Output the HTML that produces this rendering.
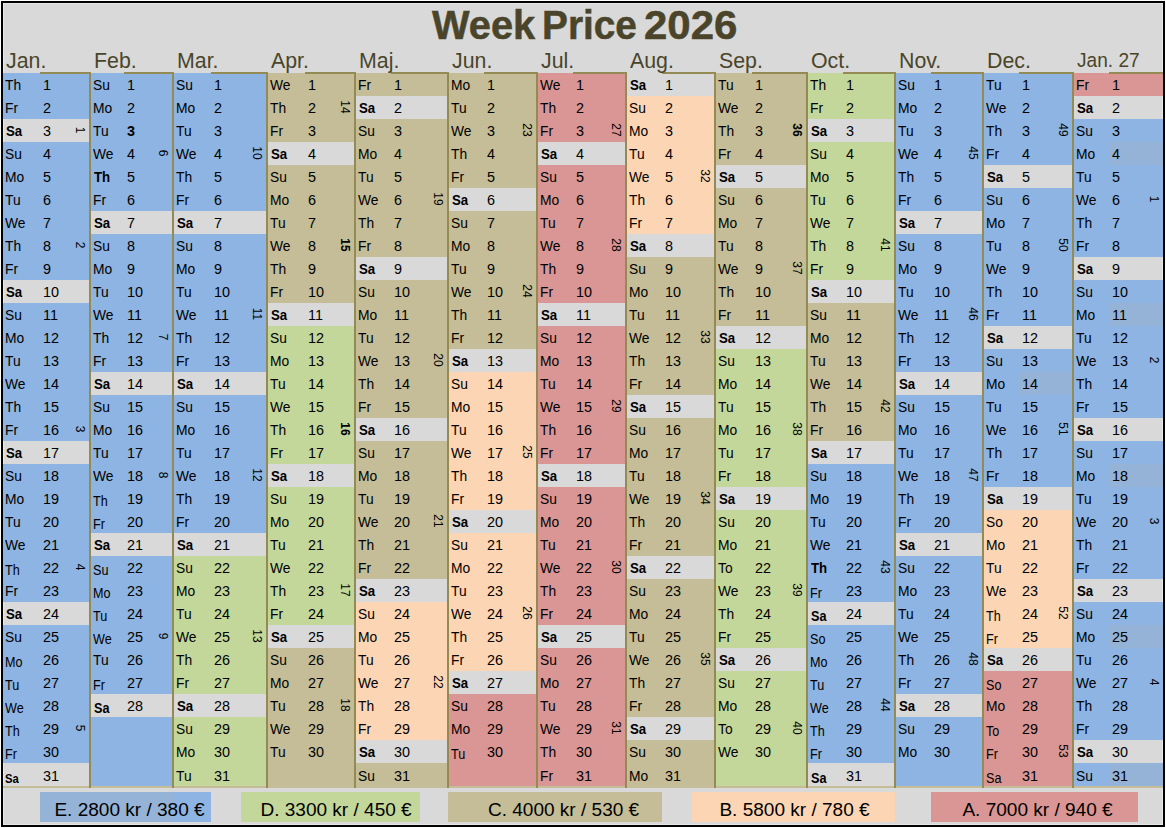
<!DOCTYPE html>
<html><head><meta charset="utf-8"><title>Week Price 2026</title>
<style>
html,body{margin:0;padding:0}
body{width:1166px;height:828px;position:relative;overflow:hidden;background:#fff;
font-family:"Liberation Sans",sans-serif;color:#000}
#fr{position:absolute;left:1px;top:1px;width:1160px;height:822px;border:2px solid #000;background:#d9d9d9;
box-shadow:inset 1px 1px 0 #e8e8e8,inset -1px -1px 0 #e8e8e8}
.a{position:absolute}
.bg{position:absolute}
.d,.n{position:absolute;font-size:14.4px;line-height:23px;height:23px;white-space:nowrap;margin-top:1px}
.d{transform:scaleX(.96);transform-origin:0 50%}
.b{font-weight:bold}
.d.b{transform:scaleX(.92);margin-left:1px}
.r31{margin-top:2px}
.lo.r31{margin-top:3.5px}
.lo{margin-top:3px;font-size:14px}
.d.lo{transform:scaleX(.9)}
.d.alt{font-size:13.4px;transform:scaleX(.84);margin-left:0}
.w{position:absolute;font-size:13.3px;line-height:12px;width:30px;height:12px;text-align:center;
transform:rotate(90deg) scaleX(.9);transform-origin:50% 50%;white-space:nowrap}
.m{position:absolute;font-size:22px;line-height:24px;color:#4a452a;white-space:nowrap;top:48.7px;transform:scaleX(.97);transform-origin:0 0}
.ms{font-size:19.7px;top:47.6px}
.bl{position:absolute;background:#948a54}
#title{position:absolute;left:432px;top:3.3px;font-size:39.8px;line-height:44px;font-weight:bold;color:#4a452a;
white-space:nowrap}
.tw{position:absolute;top:0;transform-origin:0 0;-webkit-text-stroke:.5px #4a452a}
.lg{position:absolute;top:792px;height:30px}
.lt{position:absolute;top:792px;height:30px;line-height:30px;font-size:19.05px;white-space:nowrap;margin-top:3.4px;margin-left:-.6px}
</style></head><body><div id="fr"></div>
<div id="title"><span class="tw" style="left:0">Week</span><span class="tw" style="left:110px;transform:scaleX(.975)">Price</span><span class="tw" style="left:211.8px;transform:scaleX(1.055)">2026</span></div>

<div class="a" style="left:3px;top:786px;width:1160px;height:2px;background:#c4bd97"></div>
<div class="bg" style="left:3px;top:73.4px;width:86px;height:45.98px;background:#8db4e2"></div>
<div class="bg" style="left:3px;top:142.37px;width:86px;height:137.94px;background:#8db4e2"></div>
<div class="bg" style="left:3px;top:303.3px;width:86px;height:137.94px;background:#8db4e2"></div>
<div class="bg" style="left:3px;top:464.23px;width:86px;height:137.94px;background:#8db4e2"></div>
<div class="bg" style="left:3px;top:625.16px;width:86px;height:137.94px;background:#8db4e2"></div>
<div class="bl" style="left:40px;top:72px;width:51px;height:2px"></div>
<div class="bl" style="left:89px;top:72px;width:2px;height:716px"></div>
<div class="m" style="left:6px">Jan.</div>
<div class="d" style="left:5px;top:73.4px">Th</div>
<div class="n" style="left:43px;top:73.4px">1</div>
<div class="d" style="left:5px;top:96.39px">Fr</div>
<div class="n" style="left:43px;top:96.39px">2</div>
<div class="d b" style="left:5px;top:119.38px">Sa</div>
<div class="n" style="left:43px;top:119.38px">3</div>
<div class="d" style="left:5px;top:142.37px">Su</div>
<div class="n" style="left:43px;top:142.37px">4</div>
<div class="d" style="left:5px;top:165.36px">Mo</div>
<div class="n" style="left:43px;top:165.36px">5</div>
<div class="d" style="left:5px;top:188.35px">Tu</div>
<div class="n" style="left:43px;top:188.35px">6</div>
<div class="d" style="left:5px;top:211.34px">We</div>
<div class="n" style="left:43px;top:211.34px">7</div>
<div class="d" style="left:5px;top:234.33px">Th</div>
<div class="n" style="left:43px;top:234.33px">8</div>
<div class="d" style="left:5px;top:257.32px">Fr</div>
<div class="n" style="left:43px;top:257.32px">9</div>
<div class="d b" style="left:5px;top:280.31px">Sa</div>
<div class="n" style="left:43px;top:280.31px">10</div>
<div class="d" style="left:5px;top:303.3px">Su</div>
<div class="n" style="left:43px;top:303.3px">11</div>
<div class="d" style="left:5px;top:326.29px">Mo</div>
<div class="n" style="left:43px;top:326.29px">12</div>
<div class="d" style="left:5px;top:349.28px">Tu</div>
<div class="n" style="left:43px;top:349.28px">13</div>
<div class="d" style="left:5px;top:372.27px">We</div>
<div class="n" style="left:43px;top:372.27px">14</div>
<div class="d" style="left:5px;top:395.26px">Th</div>
<div class="n" style="left:43px;top:395.26px">15</div>
<div class="d" style="left:5px;top:418.25px">Fr</div>
<div class="n" style="left:43px;top:418.25px">16</div>
<div class="d b" style="left:5px;top:441.24px">Sa</div>
<div class="n" style="left:43px;top:441.24px">17</div>
<div class="d" style="left:5px;top:464.23px">Su</div>
<div class="n" style="left:43px;top:464.23px">18</div>
<div class="d" style="left:5px;top:487.22px">Mo</div>
<div class="n" style="left:43px;top:487.22px">19</div>
<div class="d" style="left:5px;top:510.21px">Tu</div>
<div class="n" style="left:43px;top:510.21px">20</div>
<div class="d" style="left:5px;top:533.2px">We</div>
<div class="n" style="left:43px;top:533.2px">21</div>
<div class="d lo" style="left:5px;top:556.19px">Th</div>
<div class="n" style="left:43px;top:556.19px">22</div>
<div class="d" style="left:5px;top:579.18px">Fr</div>
<div class="n" style="left:43px;top:579.18px">23</div>
<div class="d b" style="left:5px;top:602.17px">Sa</div>
<div class="n" style="left:43px;top:602.17px">24</div>
<div class="d" style="left:5px;top:625.16px">Su</div>
<div class="n" style="left:43px;top:625.16px">25</div>
<div class="d lo" style="left:5px;top:648.15px">Mo</div>
<div class="n" style="left:43px;top:648.15px">26</div>
<div class="d lo" style="left:5px;top:671.14px">Tu</div>
<div class="n" style="left:43px;top:671.14px">27</div>
<div class="d lo" style="left:5px;top:694.13px">We</div>
<div class="n" style="left:43px;top:694.13px">28</div>
<div class="d lo" style="left:5px;top:717.12px">Th</div>
<div class="n" style="left:43px;top:717.12px">29</div>
<div class="d lo" style="left:5px;top:740.11px">Fr</div>
<div class="n" style="left:43px;top:740.11px">30</div>
<div class="d b lo alt r31" style="left:5px;top:763.1px">Sa</div>
<div class="n r31" style="left:43px;top:763.1px">31</div>
<div class="w" style="left:65px;top:124.38px">1</div>
<div class="w" style="left:65px;top:239.32px">2</div>
<div class="w" style="left:65px;top:423.25px">3</div>
<div class="w" style="left:65px;top:561.18px">4</div>
<div class="w" style="left:65px;top:722.11px">5</div>
<div class="bg" style="left:91px;top:73.4px;width:81px;height:137.94px;background:#8db4e2"></div>
<div class="bg" style="left:91px;top:234.33px;width:81px;height:137.94px;background:#8db4e2"></div>
<div class="bg" style="left:91px;top:395.26px;width:81px;height:137.94px;background:#8db4e2"></div>
<div class="bg" style="left:91px;top:556.19px;width:81px;height:137.94px;background:#8db4e2"></div>
<div class="bg" style="left:91px;top:717.12px;width:81px;height:68.97px;background:#8db4e2"></div>
<div class="bl" style="left:124px;top:72px;width:50px;height:2px"></div>
<div class="bl" style="left:172px;top:72px;width:2px;height:716px"></div>
<div class="m" style="left:94px">Feb.</div>
<div class="d" style="left:93px;top:73.4px">Su</div>
<div class="n" style="left:127px;top:73.4px">1</div>
<div class="d" style="left:93px;top:96.39px">Mo</div>
<div class="n" style="left:127px;top:96.39px">2</div>
<div class="d" style="left:93px;top:119.38px">Tu</div>
<div class="n b" style="left:127px;top:119.38px">3</div>
<div class="d" style="left:93px;top:142.37px">We</div>
<div class="n" style="left:127px;top:142.37px">4</div>
<div class="d b" style="left:93px;top:165.36px">Th</div>
<div class="n" style="left:127px;top:165.36px">5</div>
<div class="d" style="left:93px;top:188.35px">Fr</div>
<div class="n" style="left:127px;top:188.35px">6</div>
<div class="d b" style="left:93px;top:211.34px">Sa</div>
<div class="n" style="left:127px;top:211.34px">7</div>
<div class="d" style="left:93px;top:234.33px">Su</div>
<div class="n" style="left:127px;top:234.33px">8</div>
<div class="d" style="left:93px;top:257.32px">Mo</div>
<div class="n" style="left:127px;top:257.32px">9</div>
<div class="d" style="left:93px;top:280.31px">Tu</div>
<div class="n" style="left:127px;top:280.31px">10</div>
<div class="d" style="left:93px;top:303.3px">We</div>
<div class="n" style="left:127px;top:303.3px">11</div>
<div class="d" style="left:93px;top:326.29px">Th</div>
<div class="n" style="left:127px;top:326.29px">12</div>
<div class="d" style="left:93px;top:349.28px">Fr</div>
<div class="n" style="left:127px;top:349.28px">13</div>
<div class="d b" style="left:93px;top:372.27px">Sa</div>
<div class="n" style="left:127px;top:372.27px">14</div>
<div class="d" style="left:93px;top:395.26px">Su</div>
<div class="n" style="left:127px;top:395.26px">15</div>
<div class="d" style="left:93px;top:418.25px">Mo</div>
<div class="n" style="left:127px;top:418.25px">16</div>
<div class="d" style="left:93px;top:441.24px">Tu</div>
<div class="n" style="left:127px;top:441.24px">17</div>
<div class="d" style="left:93px;top:464.23px">We</div>
<div class="n" style="left:127px;top:464.23px">18</div>
<div class="d lo" style="left:93px;top:487.22px">Th</div>
<div class="n" style="left:127px;top:487.22px">19</div>
<div class="d lo" style="left:93px;top:510.21px">Fr</div>
<div class="n" style="left:127px;top:510.21px">20</div>
<div class="d b" style="left:93px;top:533.2px">Sa</div>
<div class="n" style="left:127px;top:533.2px">21</div>
<div class="d lo" style="left:93px;top:556.19px">Su</div>
<div class="n" style="left:127px;top:556.19px">22</div>
<div class="d lo" style="left:93px;top:579.18px">Mo</div>
<div class="n" style="left:127px;top:579.18px">23</div>
<div class="d lo" style="left:93px;top:602.17px">Tu</div>
<div class="n" style="left:127px;top:602.17px">24</div>
<div class="d lo" style="left:93px;top:625.16px">We</div>
<div class="n" style="left:127px;top:625.16px">25</div>
<div class="d" style="left:93px;top:648.15px">Tu</div>
<div class="n" style="left:127px;top:648.15px">26</div>
<div class="d lo" style="left:93px;top:671.14px">Fr</div>
<div class="n" style="left:127px;top:671.14px">27</div>
<div class="d b lo" style="left:93px;top:694.13px">Sa</div>
<div class="n" style="left:127px;top:694.13px">28</div>
<div class="w" style="left:148px;top:147.37px">6</div>
<div class="w" style="left:148px;top:331.28px">7</div>
<div class="w" style="left:148px;top:469.23px">8</div>
<div class="w" style="left:148px;top:630.15px">9</div>
<div class="bg" style="left:174px;top:73.4px;width:92px;height:137.94px;background:#8db4e2"></div>
<div class="bg" style="left:174px;top:234.33px;width:92px;height:137.94px;background:#8db4e2"></div>
<div class="bg" style="left:174px;top:395.26px;width:92px;height:137.94px;background:#8db4e2"></div>
<div class="bg" style="left:174px;top:556.19px;width:92px;height:137.94px;background:#c4d79b"></div>
<div class="bg" style="left:174px;top:717.12px;width:92px;height:68.97px;background:#c4d79b"></div>
<div class="bl" style="left:211px;top:72px;width:57px;height:2px"></div>
<div class="bl" style="left:266px;top:72px;width:2px;height:716px"></div>
<div class="m" style="left:177px">Mar.</div>
<div class="d" style="left:176px;top:73.4px">Su</div>
<div class="n" style="left:214px;top:73.4px">1</div>
<div class="d" style="left:176px;top:96.39px">Mo</div>
<div class="n" style="left:214px;top:96.39px">2</div>
<div class="d" style="left:176px;top:119.38px">Tu</div>
<div class="n" style="left:214px;top:119.38px">3</div>
<div class="d" style="left:176px;top:142.37px">We</div>
<div class="n" style="left:214px;top:142.37px">4</div>
<div class="d" style="left:176px;top:165.36px">Th</div>
<div class="n" style="left:214px;top:165.36px">5</div>
<div class="d" style="left:176px;top:188.35px">Fr</div>
<div class="n" style="left:214px;top:188.35px">6</div>
<div class="d b" style="left:176px;top:211.34px">Sa</div>
<div class="n" style="left:214px;top:211.34px">7</div>
<div class="d" style="left:176px;top:234.33px">Su</div>
<div class="n" style="left:214px;top:234.33px">8</div>
<div class="d" style="left:176px;top:257.32px">Mo</div>
<div class="n" style="left:214px;top:257.32px">9</div>
<div class="d" style="left:176px;top:280.31px">Tu</div>
<div class="n" style="left:214px;top:280.31px">10</div>
<div class="d" style="left:176px;top:303.3px">We</div>
<div class="n" style="left:214px;top:303.3px">11</div>
<div class="d" style="left:176px;top:326.29px">Th</div>
<div class="n" style="left:214px;top:326.29px">12</div>
<div class="d" style="left:176px;top:349.28px">Fr</div>
<div class="n" style="left:214px;top:349.28px">13</div>
<div class="d b" style="left:176px;top:372.27px">Sa</div>
<div class="n" style="left:214px;top:372.27px">14</div>
<div class="d" style="left:176px;top:395.26px">Su</div>
<div class="n" style="left:214px;top:395.26px">15</div>
<div class="d" style="left:176px;top:418.25px">Mo</div>
<div class="n" style="left:214px;top:418.25px">16</div>
<div class="d" style="left:176px;top:441.24px">Tu</div>
<div class="n" style="left:214px;top:441.24px">17</div>
<div class="d" style="left:176px;top:464.23px">We</div>
<div class="n" style="left:214px;top:464.23px">18</div>
<div class="d" style="left:176px;top:487.22px">Th</div>
<div class="n" style="left:214px;top:487.22px">19</div>
<div class="d" style="left:176px;top:510.21px">Fr</div>
<div class="n" style="left:214px;top:510.21px">20</div>
<div class="d b" style="left:176px;top:533.2px">Sa</div>
<div class="n" style="left:214px;top:533.2px">21</div>
<div class="d" style="left:176px;top:556.19px">Su</div>
<div class="n" style="left:214px;top:556.19px">22</div>
<div class="d" style="left:176px;top:579.18px">Mo</div>
<div class="n" style="left:214px;top:579.18px">23</div>
<div class="d" style="left:176px;top:602.17px">Tu</div>
<div class="n" style="left:214px;top:602.17px">24</div>
<div class="d" style="left:176px;top:625.16px">We</div>
<div class="n" style="left:214px;top:625.16px">25</div>
<div class="d" style="left:176px;top:648.15px">Th</div>
<div class="n" style="left:214px;top:648.15px">26</div>
<div class="d" style="left:176px;top:671.14px">Fr</div>
<div class="n" style="left:214px;top:671.14px">27</div>
<div class="d b" style="left:176px;top:694.13px">Sa</div>
<div class="n" style="left:214px;top:694.13px">28</div>
<div class="d" style="left:176px;top:717.12px">Su</div>
<div class="n" style="left:214px;top:717.12px">29</div>
<div class="d" style="left:176px;top:740.11px">Mo</div>
<div class="n" style="left:214px;top:740.11px">30</div>
<div class="d r31" style="left:176px;top:763.1px">Tu</div>
<div class="n r31" style="left:214px;top:763.1px">31</div>
<div class="w" style="left:242px;top:147.37px">10</div>
<div class="w" style="left:242px;top:308.29px">11</div>
<div class="w" style="left:242px;top:469.23px">12</div>
<div class="w" style="left:242px;top:630.15px">13</div>
<div class="bg" style="left:268px;top:73.4px;width:86px;height:68.97px;background:#c4bd97"></div>
<div class="bg" style="left:268px;top:165.36px;width:86px;height:137.94px;background:#c4bd97"></div>
<div class="bg" style="left:268px;top:326.29px;width:86px;height:137.94px;background:#c4d79b"></div>
<div class="bg" style="left:268px;top:487.22px;width:86px;height:137.94px;background:#c4d79b"></div>
<div class="bg" style="left:268px;top:648.15px;width:86px;height:137.94px;background:#c4bd97"></div>
<div class="bl" style="left:305px;top:72px;width:51px;height:2px"></div>
<div class="bl" style="left:354px;top:72px;width:2px;height:716px"></div>
<div class="m" style="left:271px">Apr.</div>
<div class="d" style="left:270px;top:73.4px">We</div>
<div class="n" style="left:308px;top:73.4px">1</div>
<div class="d" style="left:270px;top:96.39px">Th</div>
<div class="n" style="left:308px;top:96.39px">2</div>
<div class="d" style="left:270px;top:119.38px">Fr</div>
<div class="n" style="left:308px;top:119.38px">3</div>
<div class="d b" style="left:270px;top:142.37px">Sa</div>
<div class="n" style="left:308px;top:142.37px">4</div>
<div class="d" style="left:270px;top:165.36px">Su</div>
<div class="n" style="left:308px;top:165.36px">5</div>
<div class="d" style="left:270px;top:188.35px">Mo</div>
<div class="n" style="left:308px;top:188.35px">6</div>
<div class="d" style="left:270px;top:211.34px">Tu</div>
<div class="n" style="left:308px;top:211.34px">7</div>
<div class="d" style="left:270px;top:234.33px">We</div>
<div class="n" style="left:308px;top:234.33px">8</div>
<div class="d" style="left:270px;top:257.32px">Th</div>
<div class="n" style="left:308px;top:257.32px">9</div>
<div class="d" style="left:270px;top:280.31px">Fr</div>
<div class="n" style="left:308px;top:280.31px">10</div>
<div class="d b" style="left:270px;top:303.3px">Sa</div>
<div class="n" style="left:308px;top:303.3px">11</div>
<div class="d" style="left:270px;top:326.29px">Su</div>
<div class="n" style="left:308px;top:326.29px">12</div>
<div class="d" style="left:270px;top:349.28px">Mo</div>
<div class="n" style="left:308px;top:349.28px">13</div>
<div class="d" style="left:270px;top:372.27px">Tu</div>
<div class="n" style="left:308px;top:372.27px">14</div>
<div class="d" style="left:270px;top:395.26px">We</div>
<div class="n" style="left:308px;top:395.26px">15</div>
<div class="d" style="left:270px;top:418.25px">Th</div>
<div class="n" style="left:308px;top:418.25px">16</div>
<div class="d" style="left:270px;top:441.24px">Fr</div>
<div class="n" style="left:308px;top:441.24px">17</div>
<div class="d b" style="left:270px;top:464.23px">Sa</div>
<div class="n" style="left:308px;top:464.23px">18</div>
<div class="d" style="left:270px;top:487.22px">Su</div>
<div class="n" style="left:308px;top:487.22px">19</div>
<div class="d" style="left:270px;top:510.21px">Mo</div>
<div class="n" style="left:308px;top:510.21px">20</div>
<div class="d" style="left:270px;top:533.2px">Tu</div>
<div class="n" style="left:308px;top:533.2px">21</div>
<div class="d" style="left:270px;top:556.19px">We</div>
<div class="n" style="left:308px;top:556.19px">22</div>
<div class="d" style="left:270px;top:579.18px">Th</div>
<div class="n" style="left:308px;top:579.18px">23</div>
<div class="d" style="left:270px;top:602.17px">Fr</div>
<div class="n" style="left:308px;top:602.17px">24</div>
<div class="d b" style="left:270px;top:625.16px">Sa</div>
<div class="n" style="left:308px;top:625.16px">25</div>
<div class="d" style="left:270px;top:648.15px">Su</div>
<div class="n" style="left:308px;top:648.15px">26</div>
<div class="d" style="left:270px;top:671.14px">Mo</div>
<div class="n" style="left:308px;top:671.14px">27</div>
<div class="d" style="left:270px;top:694.13px">Tu</div>
<div class="n" style="left:308px;top:694.13px">28</div>
<div class="d" style="left:270px;top:717.12px">We</div>
<div class="n" style="left:308px;top:717.12px">29</div>
<div class="d" style="left:270px;top:740.11px">Tu</div>
<div class="n" style="left:308px;top:740.11px">30</div>
<div class="w" style="left:330px;top:101.39px">14</div>
<div class="w b" style="left:330px;top:239.32px">15</div>
<div class="w b" style="left:330px;top:423.25px">16</div>
<div class="w" style="left:330px;top:584.17px">17</div>
<div class="w" style="left:330px;top:699.12px">18</div>
<div class="bg" style="left:356px;top:73.4px;width:91px;height:22.99px;background:#c4bd97"></div>
<div class="bg" style="left:356px;top:119.38px;width:91px;height:137.94px;background:#c4bd97"></div>
<div class="bg" style="left:356px;top:280.31px;width:91px;height:137.94px;background:#c4bd97"></div>
<div class="bg" style="left:356px;top:441.24px;width:91px;height:137.94px;background:#c4bd97"></div>
<div class="bg" style="left:356px;top:602.17px;width:91px;height:137.94px;background:#fcd5b4"></div>
<div class="bg" style="left:356px;top:763.1px;width:91px;height:22.99px;background:#c4bd97"></div>
<div class="bl" style="left:391px;top:72px;width:58px;height:2px"></div>
<div class="bl" style="left:447px;top:72px;width:2px;height:716px"></div>
<div class="m" style="left:359px">Maj.</div>
<div class="d" style="left:358px;top:73.4px">Fr</div>
<div class="n" style="left:394px;top:73.4px">1</div>
<div class="d b" style="left:358px;top:96.39px">Sa</div>
<div class="n" style="left:394px;top:96.39px">2</div>
<div class="d" style="left:358px;top:119.38px">Su</div>
<div class="n" style="left:394px;top:119.38px">3</div>
<div class="d" style="left:358px;top:142.37px">Mo</div>
<div class="n" style="left:394px;top:142.37px">4</div>
<div class="d" style="left:358px;top:165.36px">Tu</div>
<div class="n" style="left:394px;top:165.36px">5</div>
<div class="d" style="left:358px;top:188.35px">We</div>
<div class="n" style="left:394px;top:188.35px">6</div>
<div class="d" style="left:358px;top:211.34px">Th</div>
<div class="n" style="left:394px;top:211.34px">7</div>
<div class="d" style="left:358px;top:234.33px">Fr</div>
<div class="n" style="left:394px;top:234.33px">8</div>
<div class="d b" style="left:358px;top:257.32px">Sa</div>
<div class="n" style="left:394px;top:257.32px">9</div>
<div class="d" style="left:358px;top:280.31px">Su</div>
<div class="n" style="left:394px;top:280.31px">10</div>
<div class="d" style="left:358px;top:303.3px">Mo</div>
<div class="n" style="left:394px;top:303.3px">11</div>
<div class="d" style="left:358px;top:326.29px">Tu</div>
<div class="n" style="left:394px;top:326.29px">12</div>
<div class="d" style="left:358px;top:349.28px">We</div>
<div class="n" style="left:394px;top:349.28px">13</div>
<div class="d" style="left:358px;top:372.27px">Th</div>
<div class="n" style="left:394px;top:372.27px">14</div>
<div class="d" style="left:358px;top:395.26px">Fr</div>
<div class="n" style="left:394px;top:395.26px">15</div>
<div class="d b" style="left:358px;top:418.25px">Sa</div>
<div class="n" style="left:394px;top:418.25px">16</div>
<div class="d" style="left:358px;top:441.24px">Su</div>
<div class="n" style="left:394px;top:441.24px">17</div>
<div class="d" style="left:358px;top:464.23px">Mo</div>
<div class="n" style="left:394px;top:464.23px">18</div>
<div class="d" style="left:358px;top:487.22px">Tu</div>
<div class="n" style="left:394px;top:487.22px">19</div>
<div class="d" style="left:358px;top:510.21px">We</div>
<div class="n" style="left:394px;top:510.21px">20</div>
<div class="d" style="left:358px;top:533.2px">Th</div>
<div class="n" style="left:394px;top:533.2px">21</div>
<div class="d" style="left:358px;top:556.19px">Fr</div>
<div class="n" style="left:394px;top:556.19px">22</div>
<div class="d b" style="left:358px;top:579.18px">Sa</div>
<div class="n" style="left:394px;top:579.18px">23</div>
<div class="d" style="left:358px;top:602.17px">Su</div>
<div class="n" style="left:394px;top:602.17px">24</div>
<div class="d" style="left:358px;top:625.16px">Mo</div>
<div class="n" style="left:394px;top:625.16px">25</div>
<div class="d" style="left:358px;top:648.15px">Tu</div>
<div class="n" style="left:394px;top:648.15px">26</div>
<div class="d" style="left:358px;top:671.14px">We</div>
<div class="n" style="left:394px;top:671.14px">27</div>
<div class="d" style="left:358px;top:694.13px">Th</div>
<div class="n" style="left:394px;top:694.13px">28</div>
<div class="d" style="left:358px;top:717.12px">Fr</div>
<div class="n" style="left:394px;top:717.12px">29</div>
<div class="d b" style="left:358px;top:740.11px">Sa</div>
<div class="n" style="left:394px;top:740.11px">30</div>
<div class="d r31" style="left:358px;top:763.1px">Su</div>
<div class="n r31" style="left:394px;top:763.1px">31</div>
<div class="w" style="left:423px;top:193.34px">19</div>
<div class="w" style="left:423px;top:354.27px">20</div>
<div class="w" style="left:423px;top:515.2px">21</div>
<div class="w" style="left:423px;top:676.13px">22</div>
<div class="bg" style="left:449px;top:73.4px;width:87px;height:114.95px;background:#c4bd97"></div>
<div class="bg" style="left:449px;top:211.34px;width:87px;height:137.94px;background:#c4bd97"></div>
<div class="bg" style="left:449px;top:372.27px;width:87px;height:137.94px;background:#fcd5b4"></div>
<div class="bg" style="left:449px;top:533.2px;width:87px;height:137.94px;background:#fcd5b4"></div>
<div class="bg" style="left:449px;top:694.13px;width:87px;height:91.96px;background:#da9694"></div>
<div class="bl" style="left:484px;top:72px;width:54px;height:2px"></div>
<div class="bl" style="left:536px;top:72px;width:2px;height:716px"></div>
<div class="m" style="left:452px">Jun.</div>
<div class="d" style="left:451px;top:73.4px">Mo</div>
<div class="n" style="left:487px;top:73.4px">1</div>
<div class="d" style="left:451px;top:96.39px">Tu</div>
<div class="n" style="left:487px;top:96.39px">2</div>
<div class="d" style="left:451px;top:119.38px">We</div>
<div class="n" style="left:487px;top:119.38px">3</div>
<div class="d" style="left:451px;top:142.37px">Th</div>
<div class="n" style="left:487px;top:142.37px">4</div>
<div class="d" style="left:451px;top:165.36px">Fr</div>
<div class="n" style="left:487px;top:165.36px">5</div>
<div class="d b" style="left:451px;top:188.35px">Sa</div>
<div class="n" style="left:487px;top:188.35px">6</div>
<div class="d" style="left:451px;top:211.34px">Su</div>
<div class="n" style="left:487px;top:211.34px">7</div>
<div class="d" style="left:451px;top:234.33px">Mo</div>
<div class="n" style="left:487px;top:234.33px">8</div>
<div class="d" style="left:451px;top:257.32px">Tu</div>
<div class="n" style="left:487px;top:257.32px">9</div>
<div class="d" style="left:451px;top:280.31px">We</div>
<div class="n" style="left:487px;top:280.31px">10</div>
<div class="d" style="left:451px;top:303.3px">Th</div>
<div class="n" style="left:487px;top:303.3px">11</div>
<div class="d" style="left:451px;top:326.29px">Fr</div>
<div class="n" style="left:487px;top:326.29px">12</div>
<div class="d b" style="left:451px;top:349.28px">Sa</div>
<div class="n" style="left:487px;top:349.28px">13</div>
<div class="d" style="left:451px;top:372.27px">Su</div>
<div class="n" style="left:487px;top:372.27px">14</div>
<div class="d" style="left:451px;top:395.26px">Mo</div>
<div class="n" style="left:487px;top:395.26px">15</div>
<div class="d" style="left:451px;top:418.25px">Tu</div>
<div class="n" style="left:487px;top:418.25px">16</div>
<div class="d" style="left:451px;top:441.24px">We</div>
<div class="n" style="left:487px;top:441.24px">17</div>
<div class="d" style="left:451px;top:464.23px">Th</div>
<div class="n" style="left:487px;top:464.23px">18</div>
<div class="d" style="left:451px;top:487.22px">Fr</div>
<div class="n" style="left:487px;top:487.22px">19</div>
<div class="d b" style="left:451px;top:510.21px">Sa</div>
<div class="n" style="left:487px;top:510.21px">20</div>
<div class="d" style="left:451px;top:533.2px">Su</div>
<div class="n" style="left:487px;top:533.2px">21</div>
<div class="d" style="left:451px;top:556.19px">Mo</div>
<div class="n" style="left:487px;top:556.19px">22</div>
<div class="d" style="left:451px;top:579.18px">Tu</div>
<div class="n" style="left:487px;top:579.18px">23</div>
<div class="d" style="left:451px;top:602.17px">We</div>
<div class="n" style="left:487px;top:602.17px">24</div>
<div class="d" style="left:451px;top:625.16px">Th</div>
<div class="n" style="left:487px;top:625.16px">25</div>
<div class="d" style="left:451px;top:648.15px">Fr</div>
<div class="n" style="left:487px;top:648.15px">26</div>
<div class="d b" style="left:451px;top:671.14px">Sa</div>
<div class="n" style="left:487px;top:671.14px">27</div>
<div class="d" style="left:451px;top:694.13px">Su</div>
<div class="n" style="left:487px;top:694.13px">28</div>
<div class="d" style="left:451px;top:717.12px">Mo</div>
<div class="n" style="left:487px;top:717.12px">29</div>
<div class="d lo" style="left:451px;top:740.11px">Tu</div>
<div class="n" style="left:487px;top:740.11px">30</div>
<div class="w" style="left:512px;top:124.38px">23</div>
<div class="w" style="left:512px;top:285.3px">24</div>
<div class="w" style="left:512px;top:446.24px">25</div>
<div class="w" style="left:512px;top:607.16px">26</div>
<div class="bg" style="left:538px;top:73.4px;width:87px;height:68.97px;background:#da9694"></div>
<div class="bg" style="left:538px;top:165.36px;width:87px;height:137.94px;background:#da9694"></div>
<div class="bg" style="left:538px;top:326.29px;width:87px;height:137.94px;background:#da9694"></div>
<div class="bg" style="left:538px;top:487.22px;width:87px;height:137.94px;background:#da9694"></div>
<div class="bg" style="left:538px;top:648.15px;width:87px;height:137.94px;background:#da9694"></div>
<div class="bl" style="left:573px;top:72px;width:54px;height:2px"></div>
<div class="bl" style="left:625px;top:72px;width:2px;height:716px"></div>
<div class="m" style="left:541px">Jul.</div>
<div class="d" style="left:540px;top:73.4px">We</div>
<div class="n" style="left:576px;top:73.4px">1</div>
<div class="d" style="left:540px;top:96.39px">Th</div>
<div class="n" style="left:576px;top:96.39px">2</div>
<div class="d" style="left:540px;top:119.38px">Fr</div>
<div class="n" style="left:576px;top:119.38px">3</div>
<div class="d b" style="left:540px;top:142.37px">Sa</div>
<div class="n" style="left:576px;top:142.37px">4</div>
<div class="d" style="left:540px;top:165.36px">Su</div>
<div class="n" style="left:576px;top:165.36px">5</div>
<div class="d" style="left:540px;top:188.35px">Mo</div>
<div class="n" style="left:576px;top:188.35px">6</div>
<div class="d" style="left:540px;top:211.34px">Tu</div>
<div class="n" style="left:576px;top:211.34px">7</div>
<div class="d" style="left:540px;top:234.33px">We</div>
<div class="n" style="left:576px;top:234.33px">8</div>
<div class="d" style="left:540px;top:257.32px">Th</div>
<div class="n" style="left:576px;top:257.32px">9</div>
<div class="d" style="left:540px;top:280.31px">Fr</div>
<div class="n" style="left:576px;top:280.31px">10</div>
<div class="d b" style="left:540px;top:303.3px">Sa</div>
<div class="n" style="left:576px;top:303.3px">11</div>
<div class="d" style="left:540px;top:326.29px">Su</div>
<div class="n" style="left:576px;top:326.29px">12</div>
<div class="d" style="left:540px;top:349.28px">Mo</div>
<div class="n" style="left:576px;top:349.28px">13</div>
<div class="d" style="left:540px;top:372.27px">Tu</div>
<div class="n" style="left:576px;top:372.27px">14</div>
<div class="d" style="left:540px;top:395.26px">We</div>
<div class="n" style="left:576px;top:395.26px">15</div>
<div class="d" style="left:540px;top:418.25px">Th</div>
<div class="n" style="left:576px;top:418.25px">16</div>
<div class="d" style="left:540px;top:441.24px">Fr</div>
<div class="n" style="left:576px;top:441.24px">17</div>
<div class="d b" style="left:540px;top:464.23px">Sa</div>
<div class="n" style="left:576px;top:464.23px">18</div>
<div class="d" style="left:540px;top:487.22px">Su</div>
<div class="n" style="left:576px;top:487.22px">19</div>
<div class="d" style="left:540px;top:510.21px">Mo</div>
<div class="n" style="left:576px;top:510.21px">20</div>
<div class="d" style="left:540px;top:533.2px">Tu</div>
<div class="n" style="left:576px;top:533.2px">21</div>
<div class="d" style="left:540px;top:556.19px">We</div>
<div class="n" style="left:576px;top:556.19px">22</div>
<div class="d" style="left:540px;top:579.18px">Th</div>
<div class="n" style="left:576px;top:579.18px">23</div>
<div class="d" style="left:540px;top:602.17px">Fr</div>
<div class="n" style="left:576px;top:602.17px">24</div>
<div class="d b" style="left:540px;top:625.16px">Sa</div>
<div class="n" style="left:576px;top:625.16px">25</div>
<div class="d" style="left:540px;top:648.15px">Su</div>
<div class="n" style="left:576px;top:648.15px">26</div>
<div class="d" style="left:540px;top:671.14px">Mo</div>
<div class="n" style="left:576px;top:671.14px">27</div>
<div class="d" style="left:540px;top:694.13px">Tu</div>
<div class="n" style="left:576px;top:694.13px">28</div>
<div class="d" style="left:540px;top:717.12px">We</div>
<div class="n" style="left:576px;top:717.12px">29</div>
<div class="d" style="left:540px;top:740.11px">Th</div>
<div class="n" style="left:576px;top:740.11px">30</div>
<div class="d r31" style="left:540px;top:763.1px">Fr</div>
<div class="n r31" style="left:576px;top:763.1px">31</div>
<div class="w" style="left:601px;top:124.38px">27</div>
<div class="w" style="left:601px;top:239.32px">28</div>
<div class="w" style="left:601px;top:400.25px">29</div>
<div class="w" style="left:601px;top:561.18px">30</div>
<div class="w" style="left:601px;top:722.11px">31</div>
<div class="bg" style="left:627px;top:96.39px;width:87px;height:137.94px;background:#fcd5b4"></div>
<div class="bg" style="left:627px;top:257.32px;width:87px;height:137.94px;background:#c4bd97"></div>
<div class="bg" style="left:627px;top:418.25px;width:87px;height:137.94px;background:#c4bd97"></div>
<div class="bg" style="left:627px;top:579.18px;width:87px;height:137.94px;background:#c4bd97"></div>
<div class="bg" style="left:627px;top:740.11px;width:87px;height:45.98px;background:#c4bd97"></div>
<div class="bl" style="left:662px;top:72px;width:54px;height:2px"></div>
<div class="bl" style="left:714px;top:72px;width:2px;height:716px"></div>
<div class="m" style="left:630px">Aug.</div>
<div class="d b" style="left:629px;top:73.4px">Sa</div>
<div class="n" style="left:665px;top:73.4px">1</div>
<div class="d" style="left:629px;top:96.39px">Su</div>
<div class="n" style="left:665px;top:96.39px">2</div>
<div class="d" style="left:629px;top:119.38px">Mo</div>
<div class="n" style="left:665px;top:119.38px">3</div>
<div class="d" style="left:629px;top:142.37px">Tu</div>
<div class="n" style="left:665px;top:142.37px">4</div>
<div class="d" style="left:629px;top:165.36px">We</div>
<div class="n" style="left:665px;top:165.36px">5</div>
<div class="d" style="left:629px;top:188.35px">Th</div>
<div class="n" style="left:665px;top:188.35px">6</div>
<div class="d" style="left:629px;top:211.34px">Fr</div>
<div class="n" style="left:665px;top:211.34px">7</div>
<div class="d b" style="left:629px;top:234.33px">Sa</div>
<div class="n" style="left:665px;top:234.33px">8</div>
<div class="d" style="left:629px;top:257.32px">Su</div>
<div class="n" style="left:665px;top:257.32px">9</div>
<div class="d" style="left:629px;top:280.31px">Mo</div>
<div class="n" style="left:665px;top:280.31px">10</div>
<div class="d" style="left:629px;top:303.3px">Tu</div>
<div class="n" style="left:665px;top:303.3px">11</div>
<div class="d" style="left:629px;top:326.29px">We</div>
<div class="n" style="left:665px;top:326.29px">12</div>
<div class="d" style="left:629px;top:349.28px">Th</div>
<div class="n" style="left:665px;top:349.28px">13</div>
<div class="d" style="left:629px;top:372.27px">Fr</div>
<div class="n" style="left:665px;top:372.27px">14</div>
<div class="d b" style="left:629px;top:395.26px">Sa</div>
<div class="n" style="left:665px;top:395.26px">15</div>
<div class="d" style="left:629px;top:418.25px">Su</div>
<div class="n" style="left:665px;top:418.25px">16</div>
<div class="d" style="left:629px;top:441.24px">Mo</div>
<div class="n" style="left:665px;top:441.24px">17</div>
<div class="d" style="left:629px;top:464.23px">Tu</div>
<div class="n" style="left:665px;top:464.23px">18</div>
<div class="d" style="left:629px;top:487.22px">We</div>
<div class="n" style="left:665px;top:487.22px">19</div>
<div class="d" style="left:629px;top:510.21px">Th</div>
<div class="n" style="left:665px;top:510.21px">20</div>
<div class="d" style="left:629px;top:533.2px">Fr</div>
<div class="n" style="left:665px;top:533.2px">21</div>
<div class="d b" style="left:629px;top:556.19px">Sa</div>
<div class="n" style="left:665px;top:556.19px">22</div>
<div class="d" style="left:629px;top:579.18px">Su</div>
<div class="n" style="left:665px;top:579.18px">23</div>
<div class="d" style="left:629px;top:602.17px">Mo</div>
<div class="n" style="left:665px;top:602.17px">24</div>
<div class="d" style="left:629px;top:625.16px">Tu</div>
<div class="n" style="left:665px;top:625.16px">25</div>
<div class="d" style="left:629px;top:648.15px">We</div>
<div class="n" style="left:665px;top:648.15px">26</div>
<div class="d" style="left:629px;top:671.14px">Th</div>
<div class="n" style="left:665px;top:671.14px">27</div>
<div class="d" style="left:629px;top:694.13px">Fr</div>
<div class="n" style="left:665px;top:694.13px">28</div>
<div class="d b" style="left:629px;top:717.12px">Sa</div>
<div class="n" style="left:665px;top:717.12px">29</div>
<div class="d" style="left:629px;top:740.11px">Su</div>
<div class="n" style="left:665px;top:740.11px">30</div>
<div class="d r31" style="left:629px;top:763.1px">Mo</div>
<div class="n r31" style="left:665px;top:763.1px">31</div>
<div class="w" style="left:690px;top:170.36px">32</div>
<div class="w" style="left:690px;top:331.28px">33</div>
<div class="w" style="left:690px;top:492.22px">34</div>
<div class="w" style="left:690px;top:653.14px">35</div>
<div class="bg" style="left:716px;top:73.4px;width:90px;height:91.96px;background:#c4bd97"></div>
<div class="bg" style="left:716px;top:188.35px;width:90px;height:137.94px;background:#c4bd97"></div>
<div class="bg" style="left:716px;top:349.28px;width:90px;height:137.94px;background:#c4d79b"></div>
<div class="bg" style="left:716px;top:510.21px;width:90px;height:137.94px;background:#c4d79b"></div>
<div class="bg" style="left:716px;top:671.14px;width:90px;height:114.95px;background:#c4d79b"></div>
<div class="bl" style="left:752px;top:72px;width:56px;height:2px"></div>
<div class="bl" style="left:806px;top:72px;width:2px;height:716px"></div>
<div class="m" style="left:719px">Sep.</div>
<div class="d" style="left:718px;top:73.4px">Tu</div>
<div class="n" style="left:755px;top:73.4px">1</div>
<div class="d" style="left:718px;top:96.39px">We</div>
<div class="n" style="left:755px;top:96.39px">2</div>
<div class="d" style="left:718px;top:119.38px">Th</div>
<div class="n" style="left:755px;top:119.38px">3</div>
<div class="d" style="left:718px;top:142.37px">Fr</div>
<div class="n" style="left:755px;top:142.37px">4</div>
<div class="d b" style="left:718px;top:165.36px">Sa</div>
<div class="n" style="left:755px;top:165.36px">5</div>
<div class="d" style="left:718px;top:188.35px">Su</div>
<div class="n" style="left:755px;top:188.35px">6</div>
<div class="d" style="left:718px;top:211.34px">Mo</div>
<div class="n" style="left:755px;top:211.34px">7</div>
<div class="d" style="left:718px;top:234.33px">Tu</div>
<div class="n" style="left:755px;top:234.33px">8</div>
<div class="d" style="left:718px;top:257.32px">We</div>
<div class="n" style="left:755px;top:257.32px">9</div>
<div class="d" style="left:718px;top:280.31px">Th</div>
<div class="n" style="left:755px;top:280.31px">10</div>
<div class="d" style="left:718px;top:303.3px">Fr</div>
<div class="n" style="left:755px;top:303.3px">11</div>
<div class="d b" style="left:718px;top:326.29px">Sa</div>
<div class="n" style="left:755px;top:326.29px">12</div>
<div class="d" style="left:718px;top:349.28px">Su</div>
<div class="n" style="left:755px;top:349.28px">13</div>
<div class="d" style="left:718px;top:372.27px">Mo</div>
<div class="n" style="left:755px;top:372.27px">14</div>
<div class="d" style="left:718px;top:395.26px">Tu</div>
<div class="n" style="left:755px;top:395.26px">15</div>
<div class="d" style="left:718px;top:418.25px">Mo</div>
<div class="n" style="left:755px;top:418.25px">16</div>
<div class="d" style="left:718px;top:441.24px">Tu</div>
<div class="n" style="left:755px;top:441.24px">17</div>
<div class="d" style="left:718px;top:464.23px">Fr</div>
<div class="n" style="left:755px;top:464.23px">18</div>
<div class="d b" style="left:718px;top:487.22px">Sa</div>
<div class="n" style="left:755px;top:487.22px">19</div>
<div class="d" style="left:718px;top:510.21px">Su</div>
<div class="n" style="left:755px;top:510.21px">20</div>
<div class="d" style="left:718px;top:533.2px">Mo</div>
<div class="n" style="left:755px;top:533.2px">21</div>
<div class="d" style="left:718px;top:556.19px">To</div>
<div class="n" style="left:755px;top:556.19px">22</div>
<div class="d" style="left:718px;top:579.18px">We</div>
<div class="n" style="left:755px;top:579.18px">23</div>
<div class="d" style="left:718px;top:602.17px">Th</div>
<div class="n" style="left:755px;top:602.17px">24</div>
<div class="d" style="left:718px;top:625.16px">Fr</div>
<div class="n" style="left:755px;top:625.16px">25</div>
<div class="d b" style="left:718px;top:648.15px">Sa</div>
<div class="n" style="left:755px;top:648.15px">26</div>
<div class="d" style="left:718px;top:671.14px">Su</div>
<div class="n" style="left:755px;top:671.14px">27</div>
<div class="d" style="left:718px;top:694.13px">Mo</div>
<div class="n" style="left:755px;top:694.13px">28</div>
<div class="d" style="left:718px;top:717.12px">To</div>
<div class="n" style="left:755px;top:717.12px">29</div>
<div class="d" style="left:718px;top:740.11px">We</div>
<div class="n" style="left:755px;top:740.11px">30</div>
<div class="w b" style="left:782px;top:124.38px">36</div>
<div class="w" style="left:782px;top:262.31px">37</div>
<div class="w" style="left:782px;top:423.25px">38</div>
<div class="w" style="left:782px;top:584.17px">39</div>
<div class="w" style="left:782px;top:722.11px">40</div>
<div class="bg" style="left:808px;top:73.4px;width:86px;height:45.98px;background:#c4d79b"></div>
<div class="bg" style="left:808px;top:142.37px;width:86px;height:137.94px;background:#c4d79b"></div>
<div class="bg" style="left:808px;top:303.3px;width:86px;height:137.94px;background:#c4bd97"></div>
<div class="bg" style="left:808px;top:464.23px;width:86px;height:137.94px;background:#8db4e2"></div>
<div class="bg" style="left:808px;top:625.16px;width:86px;height:137.94px;background:#8db4e2"></div>
<div class="bl" style="left:843px;top:72px;width:53px;height:2px"></div>
<div class="bl" style="left:894px;top:72px;width:2px;height:716px"></div>
<div class="m" style="left:811px">Oct.</div>
<div class="d" style="left:810px;top:73.4px">Th</div>
<div class="n" style="left:846px;top:73.4px">1</div>
<div class="d" style="left:810px;top:96.39px">Fr</div>
<div class="n" style="left:846px;top:96.39px">2</div>
<div class="d b" style="left:810px;top:119.38px">Sa</div>
<div class="n" style="left:846px;top:119.38px">3</div>
<div class="d" style="left:810px;top:142.37px">Su</div>
<div class="n" style="left:846px;top:142.37px">4</div>
<div class="d" style="left:810px;top:165.36px">Mo</div>
<div class="n" style="left:846px;top:165.36px">5</div>
<div class="d" style="left:810px;top:188.35px">Tu</div>
<div class="n" style="left:846px;top:188.35px">6</div>
<div class="d" style="left:810px;top:211.34px">We</div>
<div class="n" style="left:846px;top:211.34px">7</div>
<div class="d" style="left:810px;top:234.33px">Th</div>
<div class="n" style="left:846px;top:234.33px">8</div>
<div class="d" style="left:810px;top:257.32px">Fr</div>
<div class="n" style="left:846px;top:257.32px">9</div>
<div class="d b" style="left:810px;top:280.31px">Sa</div>
<div class="n" style="left:846px;top:280.31px">10</div>
<div class="d" style="left:810px;top:303.3px">Su</div>
<div class="n" style="left:846px;top:303.3px">11</div>
<div class="d" style="left:810px;top:326.29px">Mo</div>
<div class="n" style="left:846px;top:326.29px">12</div>
<div class="d" style="left:810px;top:349.28px">Tu</div>
<div class="n" style="left:846px;top:349.28px">13</div>
<div class="d" style="left:810px;top:372.27px">We</div>
<div class="n" style="left:846px;top:372.27px">14</div>
<div class="d" style="left:810px;top:395.26px">Th</div>
<div class="n" style="left:846px;top:395.26px">15</div>
<div class="d" style="left:810px;top:418.25px">Fr</div>
<div class="n" style="left:846px;top:418.25px">16</div>
<div class="d b" style="left:810px;top:441.24px">Sa</div>
<div class="n" style="left:846px;top:441.24px">17</div>
<div class="d" style="left:810px;top:464.23px">Su</div>
<div class="n" style="left:846px;top:464.23px">18</div>
<div class="d" style="left:810px;top:487.22px">Mo</div>
<div class="n" style="left:846px;top:487.22px">19</div>
<div class="d" style="left:810px;top:510.21px">Tu</div>
<div class="n" style="left:846px;top:510.21px">20</div>
<div class="d" style="left:810px;top:533.2px">We</div>
<div class="n" style="left:846px;top:533.2px">21</div>
<div class="d b" style="left:810px;top:556.19px">Th</div>
<div class="n" style="left:846px;top:556.19px">22</div>
<div class="d lo" style="left:810px;top:579.18px">Fr</div>
<div class="n" style="left:846px;top:579.18px">23</div>
<div class="d b lo" style="left:810px;top:602.17px">Sa</div>
<div class="n" style="left:846px;top:602.17px">24</div>
<div class="d lo" style="left:810px;top:625.16px">So</div>
<div class="n" style="left:846px;top:625.16px">25</div>
<div class="d lo" style="left:810px;top:648.15px">Mo</div>
<div class="n" style="left:846px;top:648.15px">26</div>
<div class="d lo" style="left:810px;top:671.14px">Tu</div>
<div class="n" style="left:846px;top:671.14px">27</div>
<div class="d lo" style="left:810px;top:694.13px">We</div>
<div class="n" style="left:846px;top:694.13px">28</div>
<div class="d lo" style="left:810px;top:717.12px">Th</div>
<div class="n" style="left:846px;top:717.12px">29</div>
<div class="d lo" style="left:810px;top:740.11px">Fr</div>
<div class="n" style="left:846px;top:740.11px">30</div>
<div class="d b lo r31" style="left:810px;top:763.1px">Sa</div>
<div class="n r31" style="left:846px;top:763.1px">31</div>
<div class="w" style="left:870px;top:239.32px">41</div>
<div class="w" style="left:870px;top:400.25px">42</div>
<div class="w" style="left:870px;top:561.18px">43</div>
<div class="w" style="left:870px;top:699.12px">44</div>
<div class="bg" style="left:896px;top:73.4px;width:86px;height:137.94px;background:#8db4e2"></div>
<div class="bg" style="left:896px;top:234.33px;width:86px;height:137.94px;background:#8db4e2"></div>
<div class="bg" style="left:896px;top:395.26px;width:86px;height:137.94px;background:#8db4e2"></div>
<div class="bg" style="left:896px;top:556.19px;width:86px;height:137.94px;background:#8db4e2"></div>
<div class="bg" style="left:896px;top:717.12px;width:86px;height:68.97px;background:#8db4e2"></div>
<div class="bl" style="left:931px;top:72px;width:53px;height:2px"></div>
<div class="bl" style="left:982px;top:72px;width:2px;height:716px"></div>
<div class="m" style="left:899px">Nov.</div>
<div class="d" style="left:898px;top:73.4px">Su</div>
<div class="n" style="left:934px;top:73.4px">1</div>
<div class="d" style="left:898px;top:96.39px">Mo</div>
<div class="n" style="left:934px;top:96.39px">2</div>
<div class="d" style="left:898px;top:119.38px">Tu</div>
<div class="n" style="left:934px;top:119.38px">3</div>
<div class="d" style="left:898px;top:142.37px">We</div>
<div class="n" style="left:934px;top:142.37px">4</div>
<div class="d" style="left:898px;top:165.36px">Th</div>
<div class="n" style="left:934px;top:165.36px">5</div>
<div class="d" style="left:898px;top:188.35px">Fr</div>
<div class="n" style="left:934px;top:188.35px">6</div>
<div class="d b" style="left:898px;top:211.34px">Sa</div>
<div class="n" style="left:934px;top:211.34px">7</div>
<div class="d" style="left:898px;top:234.33px">Su</div>
<div class="n" style="left:934px;top:234.33px">8</div>
<div class="d" style="left:898px;top:257.32px">Mo</div>
<div class="n" style="left:934px;top:257.32px">9</div>
<div class="d" style="left:898px;top:280.31px">Tu</div>
<div class="n" style="left:934px;top:280.31px">10</div>
<div class="d" style="left:898px;top:303.3px">We</div>
<div class="n" style="left:934px;top:303.3px">11</div>
<div class="d" style="left:898px;top:326.29px">Th</div>
<div class="n" style="left:934px;top:326.29px">12</div>
<div class="d" style="left:898px;top:349.28px">Fr</div>
<div class="n" style="left:934px;top:349.28px">13</div>
<div class="d b" style="left:898px;top:372.27px">Sa</div>
<div class="n" style="left:934px;top:372.27px">14</div>
<div class="d" style="left:898px;top:395.26px">Su</div>
<div class="n" style="left:934px;top:395.26px">15</div>
<div class="d" style="left:898px;top:418.25px">Mo</div>
<div class="n" style="left:934px;top:418.25px">16</div>
<div class="d" style="left:898px;top:441.24px">Tu</div>
<div class="n" style="left:934px;top:441.24px">17</div>
<div class="d" style="left:898px;top:464.23px">We</div>
<div class="n" style="left:934px;top:464.23px">18</div>
<div class="d" style="left:898px;top:487.22px">Th</div>
<div class="n" style="left:934px;top:487.22px">19</div>
<div class="d" style="left:898px;top:510.21px">Fr</div>
<div class="n" style="left:934px;top:510.21px">20</div>
<div class="d b" style="left:898px;top:533.2px">Sa</div>
<div class="n" style="left:934px;top:533.2px">21</div>
<div class="d" style="left:898px;top:556.19px">Su</div>
<div class="n" style="left:934px;top:556.19px">22</div>
<div class="d" style="left:898px;top:579.18px">Mo</div>
<div class="n" style="left:934px;top:579.18px">23</div>
<div class="d" style="left:898px;top:602.17px">Tu</div>
<div class="n" style="left:934px;top:602.17px">24</div>
<div class="d" style="left:898px;top:625.16px">We</div>
<div class="n" style="left:934px;top:625.16px">25</div>
<div class="d" style="left:898px;top:648.15px">Th</div>
<div class="n" style="left:934px;top:648.15px">26</div>
<div class="d" style="left:898px;top:671.14px">Fr</div>
<div class="n" style="left:934px;top:671.14px">27</div>
<div class="d b" style="left:898px;top:694.13px">Sa</div>
<div class="n" style="left:934px;top:694.13px">28</div>
<div class="d" style="left:898px;top:717.12px">Su</div>
<div class="n" style="left:934px;top:717.12px">29</div>
<div class="d" style="left:898px;top:740.11px">Mo</div>
<div class="n" style="left:934px;top:740.11px">30</div>
<div class="w" style="left:958px;top:147.37px">45</div>
<div class="w" style="left:958px;top:308.29px">46</div>
<div class="w" style="left:958px;top:469.23px">47</div>
<div class="w" style="left:958px;top:653.14px">48</div>
<div class="bg" style="left:984px;top:73.4px;width:88px;height:91.96px;background:#8db4e2"></div>
<div class="bg" style="left:984px;top:188.35px;width:88px;height:137.94px;background:#8db4e2"></div>
<div class="bg" style="left:984px;top:349.28px;width:88px;height:137.94px;background:#8db4e2"></div>
<div class="bg" style="left:984px;top:510.21px;width:88px;height:137.94px;background:#fcd5b4"></div>
<div class="bg" style="left:984px;top:671.14px;width:88px;height:114.95px;background:#da9694"></div>
<div class="bg" style="left:1019px;top:372.27px;width:53px;height:22.99px;background:#95b3d7"></div>
<div class="bl" style="left:1019px;top:72px;width:55px;height:2px"></div>
<div class="bl" style="left:1072px;top:72px;width:2px;height:716px"></div>
<div class="m" style="left:987px">Dec.</div>
<div class="d" style="left:986px;top:73.4px">Tu</div>
<div class="n" style="left:1022px;top:73.4px">1</div>
<div class="d" style="left:986px;top:96.39px">We</div>
<div class="n" style="left:1022px;top:96.39px">2</div>
<div class="d" style="left:986px;top:119.38px">Th</div>
<div class="n" style="left:1022px;top:119.38px">3</div>
<div class="d" style="left:986px;top:142.37px">Fr</div>
<div class="n" style="left:1022px;top:142.37px">4</div>
<div class="d b" style="left:986px;top:165.36px">Sa</div>
<div class="n" style="left:1022px;top:165.36px">5</div>
<div class="d" style="left:986px;top:188.35px">Su</div>
<div class="n" style="left:1022px;top:188.35px">6</div>
<div class="d" style="left:986px;top:211.34px">Mo</div>
<div class="n" style="left:1022px;top:211.34px">7</div>
<div class="d" style="left:986px;top:234.33px">Tu</div>
<div class="n" style="left:1022px;top:234.33px">8</div>
<div class="d" style="left:986px;top:257.32px">We</div>
<div class="n" style="left:1022px;top:257.32px">9</div>
<div class="d" style="left:986px;top:280.31px">Th</div>
<div class="n" style="left:1022px;top:280.31px">10</div>
<div class="d" style="left:986px;top:303.3px">Fr</div>
<div class="n" style="left:1022px;top:303.3px">11</div>
<div class="d b" style="left:986px;top:326.29px">Sa</div>
<div class="n" style="left:1022px;top:326.29px">12</div>
<div class="d" style="left:986px;top:349.28px">Su</div>
<div class="n" style="left:1022px;top:349.28px">13</div>
<div class="d" style="left:986px;top:372.27px">Mo</div>
<div class="n" style="left:1022px;top:372.27px">14</div>
<div class="d" style="left:986px;top:395.26px">Tu</div>
<div class="n" style="left:1022px;top:395.26px">15</div>
<div class="d" style="left:986px;top:418.25px">We</div>
<div class="n" style="left:1022px;top:418.25px">16</div>
<div class="d" style="left:986px;top:441.24px">Th</div>
<div class="n" style="left:1022px;top:441.24px">17</div>
<div class="d" style="left:986px;top:464.23px">Fr</div>
<div class="n" style="left:1022px;top:464.23px">18</div>
<div class="d b" style="left:986px;top:487.22px">Sa</div>
<div class="n" style="left:1022px;top:487.22px">19</div>
<div class="d" style="left:986px;top:510.21px">So</div>
<div class="n" style="left:1022px;top:510.21px">20</div>
<div class="d" style="left:986px;top:533.2px">Mo</div>
<div class="n" style="left:1022px;top:533.2px">21</div>
<div class="d" style="left:986px;top:556.19px">Tu</div>
<div class="n" style="left:1022px;top:556.19px">22</div>
<div class="d" style="left:986px;top:579.18px">We</div>
<div class="n" style="left:1022px;top:579.18px">23</div>
<div class="d lo" style="left:986px;top:602.17px">Th</div>
<div class="n" style="left:1022px;top:602.17px">24</div>
<div class="d lo" style="left:986px;top:625.16px">Fr</div>
<div class="n" style="left:1022px;top:625.16px">25</div>
<div class="d b" style="left:986px;top:648.15px">Sa</div>
<div class="n" style="left:1022px;top:648.15px">26</div>
<div class="d lo" style="left:986px;top:671.14px">So</div>
<div class="n" style="left:1022px;top:671.14px">27</div>
<div class="d" style="left:986px;top:694.13px">Mo</div>
<div class="n" style="left:1022px;top:694.13px">28</div>
<div class="d lo" style="left:986px;top:717.12px">To</div>
<div class="n" style="left:1022px;top:717.12px">29</div>
<div class="d lo" style="left:986px;top:740.11px">Fr</div>
<div class="n" style="left:1022px;top:740.11px">30</div>
<div class="d lo r31" style="left:986px;top:763.1px">Sa</div>
<div class="n r31" style="left:1022px;top:763.1px">31</div>
<div class="w" style="left:1048px;top:124.38px">49</div>
<div class="w" style="left:1048px;top:239.32px">50</div>
<div class="w" style="left:1048px;top:423.25px">51</div>
<div class="w" style="left:1048px;top:607.16px">52</div>
<div class="w" style="left:1048px;top:745.1px">53</div>
<div class="bg" style="left:1074px;top:73.4px;width:89px;height:22.99px;background:#da9694"></div>
<div class="bg" style="left:1074px;top:119.38px;width:89px;height:137.94px;background:#8db4e2"></div>
<div class="bg" style="left:1074px;top:280.31px;width:89px;height:137.94px;background:#8db4e2"></div>
<div class="bg" style="left:1074px;top:441.24px;width:89px;height:137.94px;background:#8db4e2"></div>
<div class="bg" style="left:1074px;top:602.17px;width:89px;height:137.94px;background:#8db4e2"></div>
<div class="bg" style="left:1074px;top:763.1px;width:89px;height:22.99px;background:#8db4e2"></div>
<div class="bg" style="left:1109px;top:142.37px;width:54px;height:22.99px;background:#95b3d7"></div>
<div class="bg" style="left:1109px;top:303.3px;width:54px;height:22.99px;background:#95b3d7"></div>
<div class="bg" style="left:1109px;top:464.23px;width:54px;height:22.99px;background:#95b3d7"></div>
<div class="bg" style="left:1109px;top:625.16px;width:54px;height:22.99px;background:#95b3d7"></div>
<div class="bg" style="left:1109px;top:763.1px;width:54px;height:22.99px;background:#95b3d7"></div>
<div class="bl" style="left:1109px;top:72px;width:54px;height:2px"></div>
<div class="m ms" style="left:1077px">Jan. 27</div>
<div class="d" style="left:1076px;top:73.4px">Fr</div>
<div class="n" style="left:1112px;top:73.4px">1</div>
<div class="d b" style="left:1076px;top:96.39px">Sa</div>
<div class="n" style="left:1112px;top:96.39px">2</div>
<div class="d" style="left:1076px;top:119.38px">Su</div>
<div class="n" style="left:1112px;top:119.38px">3</div>
<div class="d" style="left:1076px;top:142.37px">Mo</div>
<div class="n" style="left:1112px;top:142.37px">4</div>
<div class="d" style="left:1076px;top:165.36px">Tu</div>
<div class="n" style="left:1112px;top:165.36px">5</div>
<div class="d" style="left:1076px;top:188.35px">We</div>
<div class="n" style="left:1112px;top:188.35px">6</div>
<div class="d" style="left:1076px;top:211.34px">Th</div>
<div class="n" style="left:1112px;top:211.34px">7</div>
<div class="d" style="left:1076px;top:234.33px">Fr</div>
<div class="n" style="left:1112px;top:234.33px">8</div>
<div class="d b" style="left:1076px;top:257.32px">Sa</div>
<div class="n" style="left:1112px;top:257.32px">9</div>
<div class="d" style="left:1076px;top:280.31px">Su</div>
<div class="n" style="left:1112px;top:280.31px">10</div>
<div class="d" style="left:1076px;top:303.3px">Mo</div>
<div class="n" style="left:1112px;top:303.3px">11</div>
<div class="d" style="left:1076px;top:326.29px">Tu</div>
<div class="n" style="left:1112px;top:326.29px">12</div>
<div class="d" style="left:1076px;top:349.28px">We</div>
<div class="n" style="left:1112px;top:349.28px">13</div>
<div class="d" style="left:1076px;top:372.27px">Th</div>
<div class="n" style="left:1112px;top:372.27px">14</div>
<div class="d" style="left:1076px;top:395.26px">Fr</div>
<div class="n" style="left:1112px;top:395.26px">15</div>
<div class="d b" style="left:1076px;top:418.25px">Sa</div>
<div class="n" style="left:1112px;top:418.25px">16</div>
<div class="d" style="left:1076px;top:441.24px">Su</div>
<div class="n" style="left:1112px;top:441.24px">17</div>
<div class="d" style="left:1076px;top:464.23px">Mo</div>
<div class="n" style="left:1112px;top:464.23px">18</div>
<div class="d" style="left:1076px;top:487.22px">Tu</div>
<div class="n" style="left:1112px;top:487.22px">19</div>
<div class="d" style="left:1076px;top:510.21px">We</div>
<div class="n" style="left:1112px;top:510.21px">20</div>
<div class="d" style="left:1076px;top:533.2px">Th</div>
<div class="n" style="left:1112px;top:533.2px">21</div>
<div class="d" style="left:1076px;top:556.19px">Fr</div>
<div class="n" style="left:1112px;top:556.19px">22</div>
<div class="d b" style="left:1076px;top:579.18px">Sa</div>
<div class="n" style="left:1112px;top:579.18px">23</div>
<div class="d" style="left:1076px;top:602.17px">Su</div>
<div class="n" style="left:1112px;top:602.17px">24</div>
<div class="d" style="left:1076px;top:625.16px">Mo</div>
<div class="n" style="left:1112px;top:625.16px">25</div>
<div class="d" style="left:1076px;top:648.15px">Tu</div>
<div class="n" style="left:1112px;top:648.15px">26</div>
<div class="d" style="left:1076px;top:671.14px">We</div>
<div class="n" style="left:1112px;top:671.14px">27</div>
<div class="d" style="left:1076px;top:694.13px">Th</div>
<div class="n" style="left:1112px;top:694.13px">28</div>
<div class="d" style="left:1076px;top:717.12px">Fr</div>
<div class="n" style="left:1112px;top:717.12px">29</div>
<div class="d b" style="left:1076px;top:740.11px">Sa</div>
<div class="n" style="left:1112px;top:740.11px">30</div>
<div class="d r31" style="left:1076px;top:763.1px">Su</div>
<div class="n r31" style="left:1112px;top:763.1px">31</div>
<div class="w" style="left:1139px;top:193.34px">1</div>
<div class="w" style="left:1139px;top:354.27px">2</div>
<div class="w" style="left:1139px;top:515.2px">3</div>
<div class="w" style="left:1139px;top:676.13px">4</div>
<div class="lg" style="left:40px;width:171px;background:#8db4e2"></div>
<div class="lg" style="left:40px;width:133px;background:#95b3d7"></div>
<div class="lt" style="left:55px">E. 2800 kr / 380 €</div>
<div class="lg" style="left:241px;width:179px;background:#c4d79b"></div>
<div class="lt" style="left:261px">D. 3300 kr / 450 €</div>
<div class="lg" style="left:448px;width:214px;background:#c4bd97"></div>
<div class="lt" style="left:488.5px">C. 4000 kr / 530 €</div>
<div class="lg" style="left:692px;width:203px;background:#fcd5b4"></div>
<div class="lt" style="left:720px">B. 5800 kr / 780 €</div>
<div class="lg" style="left:931px;width:207px;background:#da9694"></div>
<div class="lt" style="left:963px">A. 7000 kr / 940 €</div>
</body></html>
